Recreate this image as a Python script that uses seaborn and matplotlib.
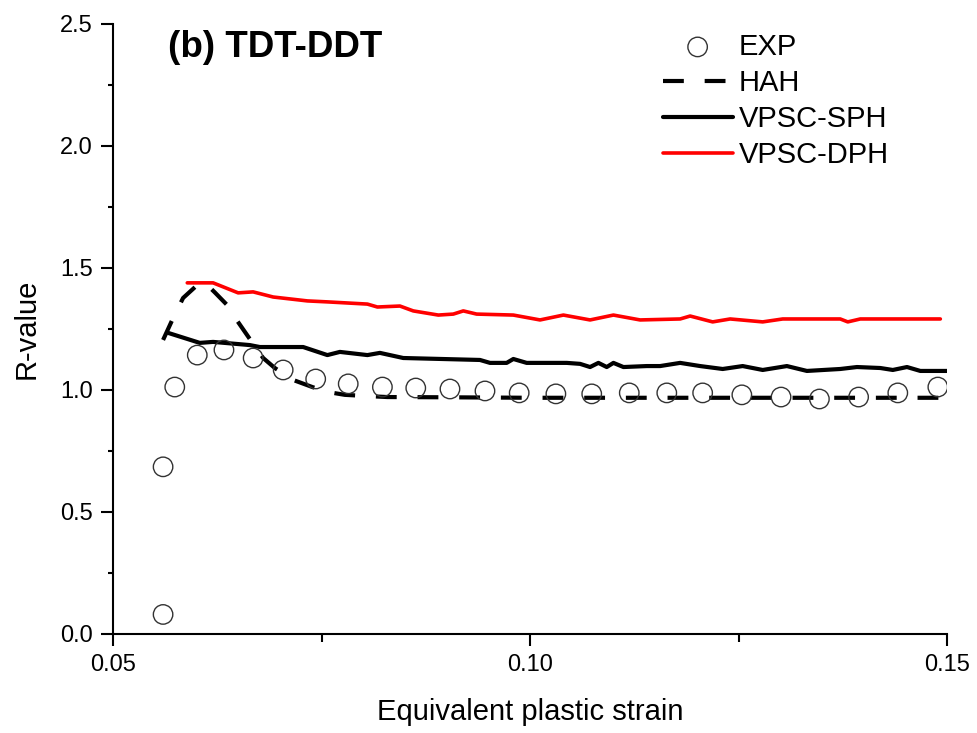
import matplotlib
matplotlib.use("Agg")
import matplotlib.pyplot as plt
import seaborn as sns
from matplotlib.ticker import MultipleLocator, FormatStrFormatter

# Experimental R-values
exp_strain = [0.0560, 0.0560, 0.0574, 0.0601, 0.0633, 0.0668, 0.0704, 0.0743, 0.0782,
              0.0823, 0.0863, 0.0904, 0.0946, 0.0987, 0.1031, 0.1074, 0.1119, 0.1164,
              0.1207, 0.1254, 0.1301, 0.1347, 0.1394, 0.1441, 0.1489]
exp_r = [0.08, 0.685, 1.012, 1.143, 1.164, 1.131, 1.082, 1.045, 1.025,
         1.012, 1.008, 1.004, 0.996, 0.988, 0.984, 0.984, 0.988, 0.988,
         0.988, 0.980, 0.971, 0.963, 0.971, 0.988, 1.012]

# HAH model
hah_strain = [0.0560, 0.0571, 0.0584, 0.0601, 0.0610, 0.0622, 0.0638, 0.0649, 0.0664,
              0.0680, 0.0694, 0.0716, 0.0739, 0.0757, 0.0778, 0.0805, 0.0829, 0.0900,
              0.1000, 0.1100, 0.1200, 0.1300, 0.1400, 0.1500]
hah_r = [1.205, 1.287, 1.377, 1.430, 1.440, 1.400, 1.344, 1.283, 1.209,
         1.131, 1.090, 1.041, 1.012, 0.992, 0.980, 0.975, 0.971, 0.970,
         0.968, 0.968, 0.968, 0.968, 0.968, 0.968]

# VPSC with single-phase hardening
sph_strain = [0.0566, 0.0604, 0.0620, 0.0664, 0.0676, 0.0728, 0.0757, 0.0772, 0.0805,
              0.0820, 0.0848, 0.0940, 0.0952, 0.0972, 0.0980, 0.0996, 0.1044, 0.1060,
              0.1072, 0.1082, 0.1092, 0.1100, 0.1112, 0.1140, 0.1156, 0.1180, 0.1204,
              0.1231, 0.1255, 0.1279, 0.1308, 0.1332, 0.1372, 0.1392, 0.1420, 0.1435,
              0.1452, 0.1468, 0.1500]
sph_r = [1.234, 1.193, 1.197, 1.184, 1.176, 1.176, 1.143, 1.156, 1.143,
         1.152, 1.131, 1.123, 1.111, 1.111, 1.127, 1.111, 1.111, 1.107,
         1.094, 1.111, 1.094, 1.111, 1.094, 1.098, 1.098, 1.111, 1.098,
         1.086, 1.098, 1.082, 1.098, 1.078, 1.086, 1.094, 1.090, 1.082,
         1.094, 1.078, 1.078]

# VPSC with dual-phase hardening
dph_strain = [0.0589, 0.0620, 0.0650, 0.0668, 0.0692, 0.0733, 0.0757, 0.0805, 0.0817,
              0.0844, 0.0860, 0.0890, 0.0908, 0.0920, 0.0936, 0.0980, 0.1012, 0.1040,
              0.1072, 0.1100, 0.1132, 0.1180, 0.1192, 0.1219, 0.1240, 0.1279, 0.1303,
              0.1372, 0.1381, 0.1396, 0.1492]
dph_r = [1.439, 1.439, 1.398, 1.402, 1.381, 1.365, 1.361, 1.352, 1.340,
         1.344, 1.324, 1.307, 1.311, 1.324, 1.311, 1.307, 1.287, 1.307,
         1.287, 1.307, 1.287, 1.291, 1.303, 1.279, 1.291, 1.279, 1.291,
         1.291, 1.279, 1.291, 1.291]

sns.set_style("ticks")
plt.rcParams["font.family"] = ["Liberation Sans", "DejaVu Sans"]
plt.rcParams["text.color"] = "black"
plt.rcParams["axes.labelcolor"] = "black"

fig = plt.figure(figsize=(9.77, 7.33), dpi=100)
ax = fig.add_axes([0.1157, 0.1351, 0.8536, 0.8322])

sns.scatterplot(x=exp_strain, y=exp_r, ax=ax, marker="o", s=14 ** 2,
                facecolor="none", edgecolor="#333333", linewidth=1.0,
                label="EXP", zorder=3)
sns.lineplot(x=hah_strain, y=hah_r, ax=ax, color="black", lw=3.0,
             linestyle=(0, (5.0, 5.0)), label="HAH", zorder=2)
sns.lineplot(x=sph_strain, y=sph_r, ax=ax, color="black", lw=3.0,
             label="VPSC-SPH", zorder=2)
sns.lineplot(x=dph_strain, y=dph_r, ax=ax, color="#ff0000", lw=2.6,
             label="VPSC-DPH", zorder=2)

ax.set_xlim(0.05, 0.15)
ax.set_ylim(0.0, 2.5)
ax.xaxis.set_major_locator(MultipleLocator(0.05))
ax.xaxis.set_minor_locator(MultipleLocator(0.025))
ax.yaxis.set_major_locator(MultipleLocator(0.5))
ax.yaxis.set_minor_locator(MultipleLocator(0.25))
ax.xaxis.set_major_formatter(FormatStrFormatter("%.2f"))
ax.yaxis.set_major_formatter(FormatStrFormatter("%.1f"))

for side in ("top", "right"):
    ax.spines[side].set_visible(False)
for side in ("left", "bottom"):
    ax.spines[side].set_linewidth(1.5)
    ax.spines[side].set_color("black")

ax.tick_params(axis="both", which="major", direction="out", length=8.5, width=1.5,
               labelsize=17, pad=6, colors="black")
ax.tick_params(axis="x", which="minor", direction="out", length=5.5, width=1.5,
               colors="black")
ax.tick_params(axis="y", which="minor", direction="out", length=3.6, width=1.5,
               colors="black")

ax.set_xlabel("Equivalent plastic strain", fontsize=21, labelpad=16)
ax.set_ylabel("R-value", fontsize=21, labelpad=14)

ax.text(0.066, 0.99, "(b) TDT-DDT", transform=ax.transAxes, fontsize=26.5,
        fontweight="bold", va="top", ha="left", color="black")

leg = ax.legend(loc="upper left", bbox_to_anchor=(0.645, 1.005), frameon=False,
                fontsize=21, handlelength=2.4, handletextpad=0.2,
                labelspacing=0.28, borderaxespad=0.0, scatterpoints=1)
for t in leg.get_texts():
    t.set_color("black")

fig.savefig("out.png", dpi=100)
